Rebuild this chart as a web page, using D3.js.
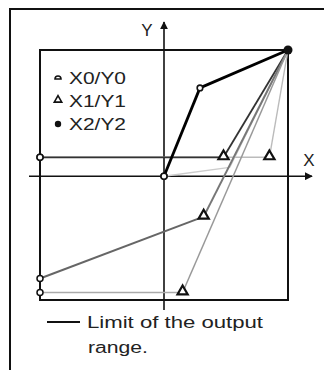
<!DOCTYPE html>
<html>
<head>
<meta charset="utf-8">
<script src="https://cdn.jsdelivr.net/npm/d3@7"></script>
<style>
  body { margin: 0; background: #fff; }
  text { font-family: "Liberation Sans", Arial, sans-serif; fill: #222; }
</style>
</head>
<body>
<div id="chart"></div>
<script>
// curves: start point (X0/Y0), knee (X1/Y1), end point (X2/Y2)
var x0s = [-1, -1, 0, -1, -1, 0];
var y0s = [0.15, 0.15, 0, -0.81, -0.92, 0];
var x1s = [0.85, 0.48, 0.53, 0.32, 0.15, 0.29];
var y1s = [0.15, 0.15, 0.07, -0.32, -0.92, 0.70];
var x2s = [1, 1, 1, 1, 1, 1];
var y2s = [1, 1, 1, 1, 1, 1];
var seg1Colors = ["#bbb", "#333", "#ccc", "#666", "#aaa", "#000"];
var seg2Colors = ["#bbb", "#333", "#ccc", "#777", "#999", "#000"];
var widths = [1.4, 1.8, 1.3, 2, 1.5, 2.8];
var kneeMarks = ["tri", "tri", "none", "tri", "tri", "circle"];

var legendLabels = ["X0/Y0", "X1/Y1", "X2/Y2"];
var limitLabel = ["Limit of the output", "range."];

var width = 324, height = 370;

var svg = d3.select("#chart").append("svg")
    .attr("width", width)
    .attr("height", height);

// outer frame
svg.append("path")
    .attr("d", "M10,372 L10,9 L326,9")
    .attr("fill", "none")
    .attr("stroke", "#111")
    .attr("stroke-width", 2);

var x = d3.scaleLinear().domain([-1, 1]).range([40, 288]);
var y = d3.scaleLinear().domain([-0.98, 1]).range([300, 50]);

// limit of the output range
svg.append("rect")
    .attr("x", x(-1)).attr("y", y(1))
    .attr("width", x(1) - x(-1)).attr("height", y(-0.98) - y(1))
    .attr("fill", "none")
    .attr("stroke", "#111")
    .attr("stroke-width", 2);

// axes with arrows
svg.append("defs").append("marker")
    .attr("id", "arrow")
    .attr("viewBox", "0 0 10 10")
    .attr("refX", 9).attr("refY", 5)
    .attr("markerWidth", 5).attr("markerHeight", 5)
    .attr("orient", "auto")
  .append("path")
    .attr("d", "M0,0 L10,5 L0,10 z")
    .attr("fill", "#111");

svg.append("line")
    .attr("x1", 29).attr("x2", 312)
    .attr("y1", y(0)).attr("y2", y(0))
    .attr("stroke", "#111").attr("stroke-width", 1.6)
    .attr("marker-end", "url(#arrow)");

svg.append("line")
    .attr("x1", x(0)).attr("x2", x(0))
    .attr("y1", 310).attr("y2", 22)
    .attr("stroke", "#111").attr("stroke-width", 1.6)
    .attr("marker-end", "url(#arrow)");

svg.append("text").attr("x", 309).attr("y", 166)
    .attr("text-anchor", "middle").attr("font-size", 17).text("X");
svg.append("text").attr("x", 147).attr("y", 36)
    .attr("text-anchor", "middle").attr("font-size", 17).text("Y");

// curve segments
var idx = d3.range(x0s.length);
var g = svg.append("g");

idx.forEach(function(i) {
    g.append("line")
        .attr("x1", x(x0s[i])).attr("y1", y(y0s[i]))
        .attr("x2", x(x1s[i])).attr("y2", y(y1s[i]))
        .attr("stroke", seg1Colors[i]).attr("stroke-width", widths[i]);
    g.append("line")
        .attr("x1", x(x1s[i])).attr("y1", y(y1s[i]))
        .attr("x2", x(x2s[i])).attr("y2", y(y2s[i]))
        .attr("stroke", seg2Colors[i]).attr("stroke-width", widths[i]);
});

// X0/Y0 markers
g.selectAll(".p0").data(idx).enter().append("circle")
    .attr("class", "p0")
    .attr("cx", function(i) { return x(x0s[i]); })
    .attr("cy", function(i) { return y(y0s[i]); })
    .attr("r", 3)
    .attr("fill", "#fff").attr("stroke", "#111").attr("stroke-width", 1.5);

// X1/Y1 markers
var tri = d3.symbol().type(d3.symbolTriangle).size(45);
g.selectAll(".p1").data(idx.filter(function(i) { return kneeMarks[i] == "tri"; }))
  .enter().append("path")
    .attr("class", "p1")
    .attr("transform", function(i) { return "translate(" + x(x1s[i]) + "," + (y(y1s[i]) - 1) + ")"; })
    .attr("d", tri)
    .attr("fill", "#fff").attr("stroke", "#111").attr("stroke-width", 2.2);

g.selectAll(".p1c").data(idx.filter(function(i) { return kneeMarks[i] == "circle"; }))
  .enter().append("circle")
    .attr("class", "p1c")
    .attr("cx", function(i) { return x(x1s[i]); })
    .attr("cy", function(i) { return y(y1s[i]); })
    .attr("r", 2.8)
    .attr("fill", "#fff").attr("stroke", "#111").attr("stroke-width", 1.6);

// X2/Y2 marker
g.append("circle")
    .attr("cx", x(x2s[0])).attr("cy", y(y2s[0]))
    .attr("r", 4.5).attr("fill", "#111");

// legend
var leg = svg.append("g");
var rowY = [78, 101, 124];
leg.append("path")
    .attr("d", "M55,79 a3,3 0 1,1 6,0 z")
    .attr("fill", "#fff").attr("stroke", "#111").attr("stroke-width", 1.6);
leg.append("path")
    .attr("transform", "translate(58," + (rowY[1] - 1) + ")")
    .attr("d", d3.symbol().type(d3.symbolTriangle).size(24))
    .attr("fill", "#fff").attr("stroke", "#111").attr("stroke-width", 1.6);
leg.append("circle").attr("cx", 58).attr("cy", rowY[2]).attr("r", 3.2).attr("fill", "#111");

leg.selectAll(".lab").data(legendLabels).enter().append("text")
    .attr("class", "lab")
    .attr("x", 69)
    .attr("y", function(d, i) { return rowY[i] + 6; })
    .attr("font-size", 16)
    .attr("textLength", 57)
    .attr("lengthAdjust", "spacingAndGlyphs")
    .text(function(d) { return d; });

leg.append("line")
    .attr("x1", 47).attr("x2", 80).attr("y1", 322).attr("y2", 322)
    .attr("stroke", "#111").attr("stroke-width", 2);
leg.append("text").attr("x", 87).attr("y", 328).attr("font-size", 16)
    .attr("textLength", 176).attr("lengthAdjust", "spacingAndGlyphs")
    .text(limitLabel[0]);
leg.append("text").attr("x", 88).attr("y", 353).attr("font-size", 16)
    .attr("textLength", 60).attr("lengthAdjust", "spacingAndGlyphs")
    .text(limitLabel[1]);
</script>
</body>
</html>
